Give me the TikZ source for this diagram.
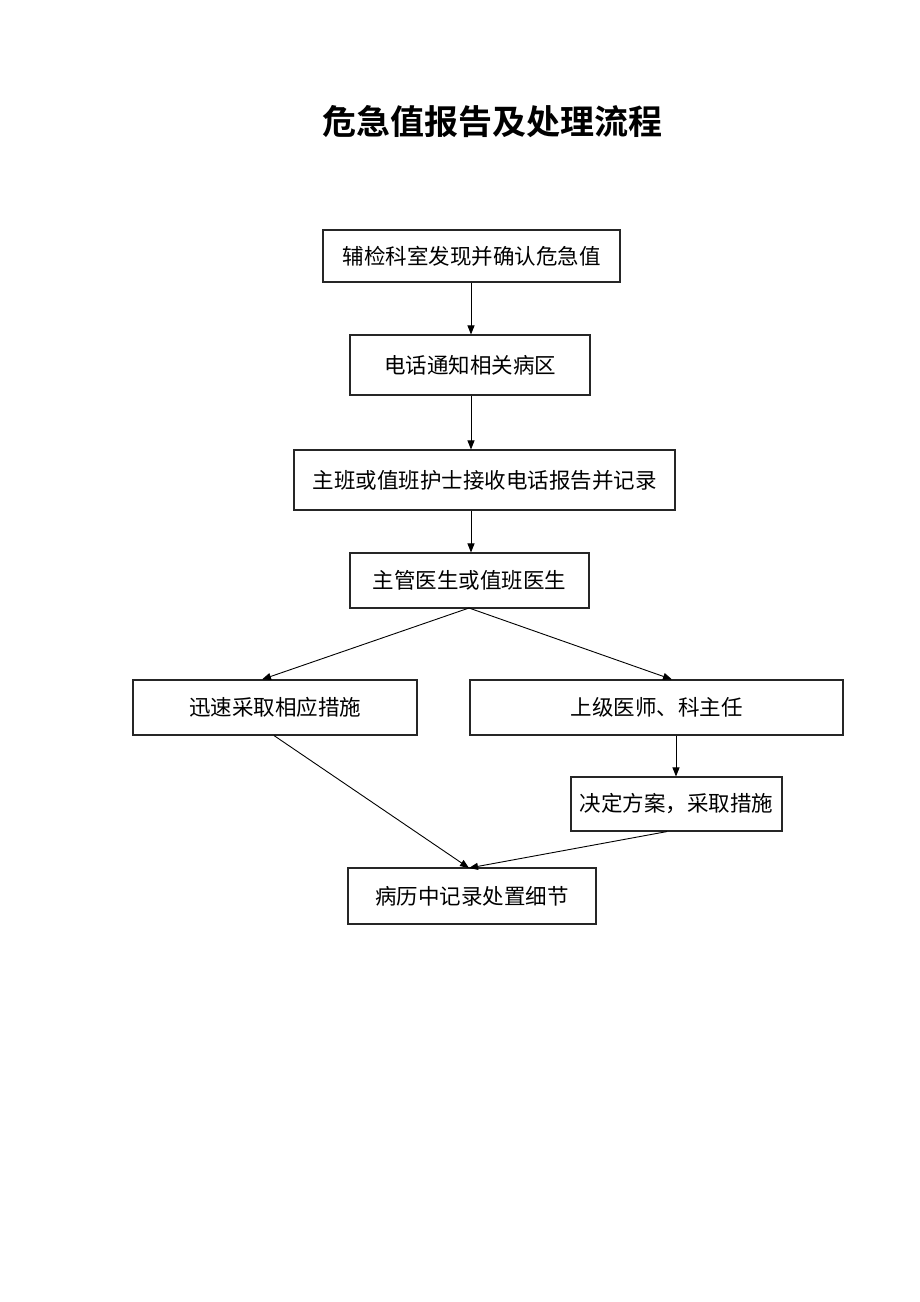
\documentclass[tikz,border=0pt]{standalone}
\usepackage{fontspec}
\setmainfont{Noto Sans CJK SC}[BoldFont={Noto Sans CJK SC Bold}]
\usetikzlibrary{arrows.meta}
\begin{document}
\begin{tikzpicture}[x=1pt,y=-1pt,
  box/.style={draw=black!85,line width=1.1pt,inner sep=0pt,font=\fontsize{21.5}{24}\selectfont},
  conn/.style={line width=0.9pt,-{Triangle[length=9pt,width=7pt]}}]
\useasboundingbox (0,0) rectangle (920,1302);
\fill[white] (0,0) rectangle (920,1302);
\node (title) at (492,122) {\fontsize{34}{38}\selectfont\bfseries 危急值报告及处理流程};
\node[box,minimum width=297pt,minimum height=52pt] (b1) at (471.5,256) {辅检科室发现并确认危急值};
\node[box,minimum width=240pt,minimum height=60pt] (b2) at (470,365) {电话通知相关病区};
\node[box,minimum width=381pt,minimum height=60pt] (b3) at (484.5,480) {主班或值班护士接收电话报告并记录};
\node[box,minimum width=239pt,minimum height=55pt] (b4) at (469.5,580.5) {主管医生或值班医生};
\node[box,minimum width=284pt,minimum height=55pt] (b5) at (275,707.5) {迅速采取相应措施};
\node[box,minimum width=373pt,minimum height=55pt] (b6) at (656.5,707.5) {上级医师、科主任};
\node[box,minimum width=211pt,minimum height=54pt] (b7) at (676.5,804) {决定方案，采取措施};
\node[box,minimum width=248pt,minimum height=56pt] (b8) at (472,896) {病历中记录处置细节};
\draw[conn] (b1.south -| 471,0) -- (b2.north -| 471,0);
\draw[conn] (b2.south -| 471,0) -- (b3.north -| 471,0);
\draw[conn] (b3.south -| 471,0) -- (b4.north -| 471,0);
\coordinate (s4) at (469,608);
\draw[conn] (s4) -- (b5.north -| 262,0);
\draw[conn] (s4) -- (b6.north -| 672,0);
\draw[conn] (b6.south -| 676,0) -- (b7.north -| 676,0);
\coordinate (t8) at (469,868);
\draw[conn] (b5.south -| 274,0) -- (t8);
\draw[conn] (b7.south -| 667,0) -- (t8);
\end{tikzpicture}
\end{document}
